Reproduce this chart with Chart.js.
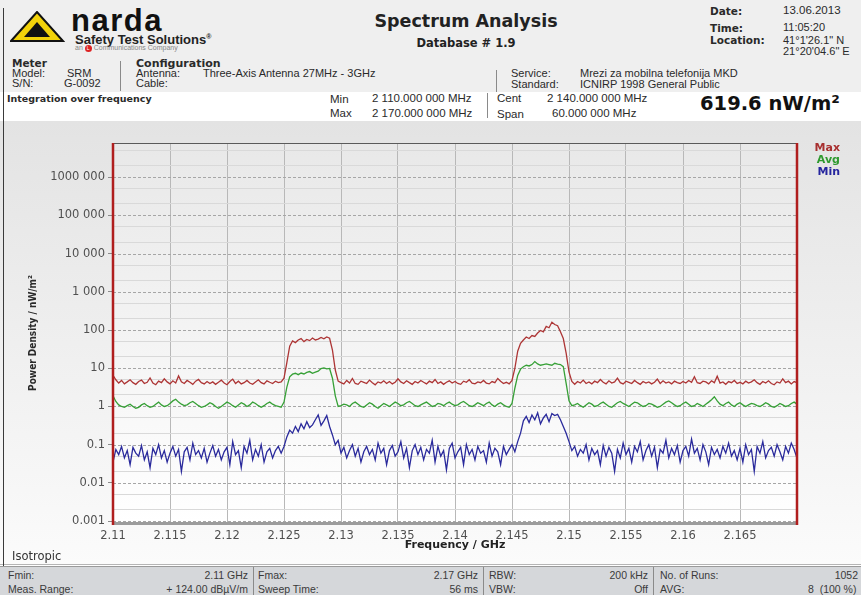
<!DOCTYPE html>
<html>
<head>
<meta charset="utf-8">
<script src="https://cdn.jsdelivr.net/npm/chart.js@4.4.0/dist/chart.umd.min.js"></script>
<style>
html, body { margin: 0; padding: 0; }
body { width: 861px; height: 595px; overflow: hidden; position: relative; background: #fff;
  font-family: "Liberation Sans", Arial, sans-serif; color: #2a2a2a; }
.t { position: absolute; white-space: nowrap; font-size: 11px; line-height: 11px; }
.v { font-family: "DejaVu Sans", Verdana, sans-serif; font-weight: bold; }
.sep { position: absolute; width: 1px; background: #8a8a8a; }
#head { position: absolute; left: 0; top: 0; width: 861px; height: 92px; background: #efefef; }
#panel { position: absolute; left: 0; top: 121px; width: 861px; height: 443px;
  background: linear-gradient(#e3e3e3, #fbfbfb); border-bottom: 1px solid #b5b5b5; }
#foot { position: absolute; left: 0; top: 566px; width: 861px; height: 29px; background: #d5d7da;
  border-top: 1px solid #9a9a9a; }
#foot .t { font-size: 10.5px; color: #3a3a3a; }
#chartBox { position: absolute; left: 0; top: 120px; width: 861px; height: 440px; }
#frameLine { position: absolute; left: 3px; top: 8px; width: 1px; height: 587px; background: #3a3a3a; }
</style>
</head>
<body>
<div id="head"></div>
<div id="panel"></div>
<div id="frameLine"></div>

<svg style="position:absolute;left:10px;top:11px" width="56" height="32" viewBox="0 0 56 32">
  <polygon points="1,30 27,1 53,30" fill="#f2d20a" stroke="#111" stroke-width="2"/>
  <polygon points="14,26 27,11 40,26" fill="#111"/>
</svg>
<div class="t" style="left:71px;top:5px;font-size:31px;line-height:31px;font-weight:bold;letter-spacing:1.5px;color:#111">narda</div>
<div class="t" style="left:75px;top:31px;font-size:13px;line-height:12px;font-weight:bold;color:#222">Safety Test Solutions<sup style="font-size:7px">®</sup></div>
<div class="t" style="left:75px;top:44px;font-size:7px;line-height:7px;color:#888">an <span style="display:inline-block;width:7px;height:7px;border-radius:4px;background:#d22;color:#fff;font-size:5px;line-height:7px;text-align:center">L</span> Communications Company</div>

<div class="t v" style="left:366px;width:200px;text-align:center;top:12px;font-size:17.5px;line-height:18px;color:#222">Spectrum Analysis</div>
<div class="t v" style="left:366px;width:200px;text-align:center;top:37px;font-size:11.5px;line-height:12px;color:#222">Database # 1.9</div>

<div class="t v" style="left:710px;top:6px;font-size:10.5px">Date:</div>
<div class="t v" style="left:710px;top:23px;font-size:10.5px">Time:</div>
<div class="t v" style="left:710px;top:35px;font-size:10.5px">Location:</div>
<div class="t" style="left:783px;top:5px;font-size:11.5px">13.06.2013</div>
<div class="t" style="left:783px;top:22px;font-size:11px">11:05:20</div>
<div class="t" style="left:783px;top:35px;font-size:11px">41°1'26.1" N</div>
<div class="t" style="left:783px;top:46px;font-size:11px">21°20'04.6" E</div>

<div class="t v" style="left:12px;top:58px;font-size:10.5px">Meter</div>
<div class="t" style="left:12px;top:68px">Model:</div>
<div class="t" style="left:67px;top:68px">SRM</div>
<div class="t" style="left:12px;top:78px">S/N:</div>
<div class="t" style="left:64px;top:78px">G-0092</div>
<div class="sep" style="left:120px;top:61px;height:30px"></div>
<div class="t v" style="left:136px;top:58px;font-size:11px">Configuration</div>
<div class="t" style="left:136px;top:68px">Antenna:</div>
<div class="t" style="left:203px;top:68px">Three-Axis Antenna 27MHz - 3GHz</div>
<div class="t" style="left:136px;top:78px">Cable:</div>
<div class="sep" style="left:496px;top:70px;height:22px"></div>
<div class="t" style="left:511px;top:68px">Service:</div>
<div class="t" style="left:580px;top:68px">Mrezi za mobilna telefonija MKD</div>
<div class="t" style="left:511px;top:79px">Standard:</div>
<div class="t" style="left:580px;top:79px">ICNIRP 1998 General Public</div>

<div class="t v" style="left:7px;top:93px;font-size:9.5px">Integration over frequency</div>
<div class="t" style="left:330px;top:94px;font-size:11.5px">Min</div>
<div class="t" style="left:372px;top:93px;font-size:11.5px">2 110.000 000 MHz</div>
<div class="t" style="left:330px;top:108px;font-size:11.5px">Max</div>
<div class="t" style="left:372px;top:108px;font-size:11.5px">2 170.000 000 MHz</div>
<div class="sep" style="left:487px;top:93px;height:25px"></div>
<div class="t" style="left:497px;top:93px;font-size:11.5px">Cent</div>
<div class="t" style="left:547px;top:93px;font-size:11.5px">2 140.000 000 MHz</div>
<div class="t" style="left:497px;top:109px;font-size:11.5px">Span</div>
<div class="t" style="left:552px;top:108px;font-size:11.5px">60.000 000 MHz</div>
<div class="t v" style="left:700px;top:94px;font-size:19.5px;line-height:20px;color:#111">619.6 nW/m²</div>

<div id="chartBox"><canvas id="spectrum" width="861" height="440" style="width:861px;height:440px"></canvas></div>

<div class="t v" style="right:21px;top:142px;font-size:11px;color:#a83030">Max</div>
<div class="t v" style="right:21px;top:154px;font-size:11px;color:#2f9a2f">Avg</div>
<div class="t v" style="right:21px;top:166px;font-size:11px;color:#25259e">Min</div>

<div class="t" style="left:12px;top:550px;font-family:'DejaVu Sans',sans-serif;font-size:11.5px;line-height:12px;color:#333">Isotropic</div>

<div id="foot">
  <div class="sep" style="left:253px;top:0;height:29px"></div>
  <div class="sep" style="left:483px;top:0;height:29px"></div>
  <div class="sep" style="left:653px;top:0;height:29px"></div>
  <div class="t" style="left:8px;top:3px">Fmin:</div>
  <div class="t" style="right:613px;top:3px">2.11 GHz</div>
  <div class="t" style="left:258px;top:3px">Fmax:</div>
  <div class="t" style="right:383px;top:3px">2.17 GHz</div>
  <div class="t" style="left:489px;top:3px">RBW:</div>
  <div class="t" style="right:213px;top:3px">200 kHz</div>
  <div class="t" style="left:660px;top:3px">No. of Runs:</div>
  <div class="t" style="right:3px;top:3px">1052</div>
  <div class="t" style="left:8px;top:17px">Meas. Range:</div>
  <div class="t" style="right:613px;top:17px">+ 124.00 dBµV/m</div>
  <div class="t" style="left:258px;top:17px">Sweep Time:</div>
  <div class="t" style="right:383px;top:17px">56 ms</div>
  <div class="t" style="left:489px;top:17px">VBW:</div>
  <div class="t" style="right:213px;top:17px">Off</div>
  <div class="t" style="left:660px;top:17px">AVG:</div>
  <div class="t" style="left:808px;top:17px">8&nbsp;&nbsp;(100 %)</div>
</div>

<script>
// sweep grid: 2.110 .. 2.170 GHz, 241 points
const fStart = 2.11;
const fStep = 0.00025;

const maxValues = [
  6.5, 5.0, 4.1, 4.8, 3.9, 4.4, 5.0, 4.2, 3.8, 4.5,
  4.9, 4.0, 4.3, 5.6, 4.1, 3.7, 4.6, 4.2, 5.3, 4.4,
  3.9, 4.7, 4.1, 6.3, 4.4, 4.0, 4.8, 4.3, 3.8, 4.6,
  5.1, 4.2, 3.9, 4.5, 4.0, 4.4, 3.8, 4.3, 4.9, 4.1,
  3.7, 4.5, 5.2, 4.0, 4.6, 3.9, 4.2, 4.8, 4.1, 3.8,
  4.4, 5.0, 4.2, 3.9, 4.7, 4.3, 4.0, 4.6, 4.2, 4.4,
  5.5, 14, 38, 52, 47, 55, 60, 50, 57, 53,
  62, 55, 58, 64, 59, 66, 61, 30, 9, 4.6,
  4.2, 3.9, 4.8, 4.1, 5.4, 4.0, 3.8, 4.6, 4.3, 4.0,
  4.9, 4.2, 3.7, 4.4, 4.1, 4.7, 4.0, 4.5, 3.9, 4.3,
  5.3, 4.4, 4.0, 4.7, 4.2, 3.8, 4.5, 4.1, 4.8, 4.3,
  3.9, 4.6, 4.2, 5.1, 4.0, 4.4, 3.8, 4.3, 4.7, 4.1,
  4.5, 4.0, 3.8, 4.6, 4.3, 5.0, 4.1, 3.9, 4.4, 4.2,
  4.8, 4.1, 3.9, 4.5, 4.2, 5.4, 4.6, 4.0, 4.3, 3.9,
  4.8, 10, 28, 45, 55, 66, 60, 72, 68, 84,
  98, 90, 125, 115, 160, 140, 130, 90, 60, 25,
  8, 4.5, 3.8, 4.5, 4.1, 4.9, 4.0, 4.4, 3.9, 4.6,
  4.2, 5.1, 4.3, 3.9, 4.7, 4.1, 4.4, 5.5, 4.2, 3.9,
  4.6, 4.3, 4.0, 4.8, 4.2, 3.8, 4.5, 4.1, 4.4, 3.9,
  4.3, 5.2, 4.0, 4.7, 4.1, 4.4, 3.9, 4.6, 4.2, 4.0,
  4.5, 4.1, 4.8, 4.3, 6.0, 4.2, 4.0, 4.6, 4.4, 3.9,
  4.7, 4.2, 6.2, 4.1, 4.4, 3.8, 4.5, 4.2, 4.8, 4.0,
  4.3, 3.9, 4.6, 4.1, 4.4, 5.0, 4.2, 3.8, 4.5, 4.1,
  4.7, 4.0, 3.7, 4.4, 4.1, 5.3, 4.2, 4.6, 3.9, 4.5, 4.2
];

const avgValues = [
  1.9, 1.35, 1.1, 1.0, 0.95, 1.05, 1.15, 1.0, 0.9, 0.95,
  1.1, 1.2, 1.05, 0.95, 1.0, 1.15, 1.3, 1.1, 1.0, 1.05,
  1.2, 1.4, 1.55, 1.3, 1.15, 1.05, 1.1, 1.25, 1.35, 1.2,
  1.05, 0.95, 1.0, 1.1, 1.25, 1.15, 1.0, 0.9, 1.0, 1.15,
  1.3, 1.2, 1.05, 0.95, 1.1, 1.25, 1.15, 1.0, 1.1, 1.3,
  1.2, 1.05, 0.95, 1.05, 1.2, 1.3, 1.15, 1.05, 1.0, 0.95,
  1.3, 3.2, 6.0, 7.0, 7.4, 6.8, 7.5, 7.1, 7.8, 8.2,
  7.4, 7.9, 8.4, 9.8, 10.2, 9.6, 9.9, 5.5, 1.9, 1.0,
  1.05, 1.15, 1.1, 1.0, 1.2, 1.3, 1.15, 1.0, 0.95, 1.1,
  1.25, 1.15, 1.0, 0.9, 1.05, 1.2, 1.1, 1.0, 1.15, 1.3,
  1.2, 1.05, 1.1, 1.25, 1.35, 1.2, 1.05, 1.0, 1.1, 1.2,
  1.3, 1.15, 1.0, 1.05, 1.2, 1.15, 1.05, 1.2, 1.3, 1.15,
  1.05, 1.1, 1.25, 1.35, 1.2, 1.05, 1.0, 1.1, 1.25, 1.15,
  1.05, 1.2, 1.3, 1.1, 1.0, 1.15, 1.25, 1.1, 1.0, 0.95,
  1.2, 3.0, 6.5, 9.5, 11.0, 12.0, 11.5, 12.5, 15.0, 13.0,
  12.0, 12.5, 13.0, 12.5, 12.0, 13.5, 12.8, 12.5, 11.0, 4.0,
  1.4, 1.05, 1.1, 1.2, 1.05, 0.95, 1.1, 1.25, 1.15, 1.0,
  1.05, 1.2, 1.3, 1.15, 1.0, 0.95, 1.1, 1.25, 1.35, 1.2,
  1.1, 1.0, 1.15, 1.3, 1.25, 1.1, 1.0, 1.05, 1.2, 1.15,
  1.05, 0.95, 1.0, 1.15, 1.3, 1.4, 1.25, 1.1, 1.0, 1.05,
  1.2, 1.3, 1.15, 1.0, 1.05, 1.2, 1.1, 1.0, 1.15, 1.3,
  1.5, 1.8, 1.4, 1.15, 1.05, 1.2, 1.3, 1.1, 1.0, 1.15,
  1.25, 1.1, 1.0, 1.1, 1.2, 1.15, 1.05, 1.0, 1.1, 1.25,
  1.15, 1.0, 0.95, 1.05, 1.2, 1.1, 1.0, 1.05, 1.2, 1.3, 1.15
];

const minValues = [
  0.035, 0.075, 0.055, 0.09, 0.045, 0.07, 0.03, 0.085, 0.06, 0.05,
  0.095, 0.04, 0.065, 0.025, 0.08, 0.055, 0.1, 0.045, 0.07, 0.035,
  0.06, 0.09, 0.05, 0.075, 0.02, 0.065, 0.085, 0.04, 0.11, 0.055,
  0.07, 0.045, 0.08, 0.035, 0.06, 0.095, 0.05, 0.075, 0.04, 0.065,
  0.085, 0.03, 0.12, 0.055, 0.07, 0.025, 0.09, 0.06, 0.13, 0.04,
  0.075, 0.05, 0.1, 0.035, 0.065, 0.08, 0.045, 0.07, 0.09, 0.06,
  0.09, 0.16, 0.24, 0.2, 0.3, 0.22, 0.35, 0.26, 0.4, 0.28,
  0.33, 0.45, 0.6, 0.32, 0.42, 0.58, 0.3, 0.18, 0.1, 0.13,
  0.06, 0.085, 0.045, 0.07, 0.1, 0.05, 0.08, 0.035, 0.065, 0.09,
  0.055, 0.075, 0.04, 0.11, 0.06, 0.08, 0.03, 0.07, 0.095, 0.05,
  0.065, 0.12, 0.045, 0.08, 0.025, 0.07, 0.1, 0.055, 0.085, 0.04,
  0.075, 0.06, 0.13, 0.035, 0.09, 0.05, 0.07, 0.022, 0.08, 0.11,
  0.045, 0.065, 0.085, 0.03, 0.1, 0.055, 0.075, 0.04, 0.09, 0.06,
  0.07, 0.035, 0.11, 0.05, 0.08, 0.065, 0.03, 0.09, 0.055, 0.075,
  0.1, 0.065, 0.12, 0.2, 0.42, 0.55, 0.38, 0.6, 0.45, 0.68,
  0.35, 0.5, 0.62, 0.4, 0.65, 0.58, 0.62, 0.45, 0.3, 0.2,
  0.12, 0.07, 0.09, 0.05, 0.075, 0.06, 0.1, 0.04, 0.08, 0.055,
  0.07, 0.03, 0.095, 0.05, 0.085, 0.06, 0.02, 0.075, 0.045, 0.11,
  0.055, 0.08, 0.035, 0.09, 0.065, 0.12, 0.04, 0.07, 0.1, 0.05,
  0.085, 0.025, 0.075, 0.06, 0.13, 0.045, 0.08, 0.055, 0.095, 0.035,
  0.07, 0.09, 0.05, 0.14, 0.06, 0.08, 0.04, 0.1, 0.065, 0.03,
  0.085, 0.055, 0.075, 0.045, 0.09, 0.06, 0.11, 0.05, 0.07, 0.04,
  0.08, 0.035, 0.1, 0.055, 0.075, 0.02, 0.09, 0.06, 0.12, 0.045,
  0.07, 0.085, 0.05, 0.1, 0.065, 0.04, 0.09, 0.06, 0.11, 0.075, 0.045
];

const xTickValues = [2.11, 2.115, 2.12, 2.125, 2.13, 2.135, 2.14, 2.145, 2.15, 2.155, 2.16, 2.165, 2.17];
const xTickLabels = ['2.11', '2.115', '2.12', '2.125', '2.13', '2.135', '2.14', '2.145', '2.15', '2.155', '2.16', '2.165', ''];

const yTickValues = [0.001, 0.01, 0.1, 1, 10, 100, 1000, 10000, 100000, 1000000];
const yTickLabels = ['0.001', '0.01', '0.1', '1', '10', '100', '1 000', '10 000', '100 000', '1000 000'];

// light solid lines at 2x and 5x inside each decade
const yGridValues = [];
yTickValues.forEach(v => { yGridValues.push(v, v * 2, v * 5); });

const freqs = maxValues.map((_, i) => Math.round((fStart + i * fStep) * 1e5) / 1e5);
const toPoints = vals => vals.map((v, i) => ({ x: freqs[i], y: v }));

const plotFrame = {
  id: 'plotFrame',
  beforeDraw(chart) {
    const { ctx, chartArea: a } = chart;
    const g = ctx.createLinearGradient(0, a.top, 0, a.bottom);
    g.addColorStop(0, '#e8e8e8');
    g.addColorStop(1, '#ffffff');
    ctx.save();
    ctx.fillStyle = g;
    ctx.fillRect(a.left, a.top, a.right - a.left, a.bottom - a.top);
    ctx.restore();
  },
  beforeDatasetsDraw(chart) {
    const { ctx, chartArea: a, scales } = chart;
    ctx.save();
    ctx.strokeStyle = '#a6a6a6';
    ctx.lineWidth = 1;
    ctx.setLineDash([3, 2]);
    yTickValues.forEach(v => {
      const py = Math.round(scales.y.getPixelForValue(v)) + 0.5;
      ctx.beginPath();
      ctx.moveTo(a.left, py);
      ctx.lineTo(a.right, py);
      ctx.stroke();
    });
    ctx.restore();
  },
  afterDatasetsDraw(chart) {
    const { ctx, chartArea: a } = chart;
    ctx.save();
    ctx.strokeStyle = '#5a5a5a';
    ctx.lineWidth = 1;
    ctx.beginPath();
    ctx.moveTo(a.left, a.top + 0.5);
    ctx.lineTo(a.right, a.top + 0.5);
    ctx.stroke();
    ctx.strokeStyle = '#9c9c9c';
    ctx.lineWidth = 3;
    ctx.beginPath();
    ctx.moveTo(a.left, a.bottom + 0.5);
    ctx.lineTo(a.right, a.bottom + 0.5);
    ctx.stroke();
    ctx.strokeStyle = '#b01e1e';
    ctx.lineWidth = 2.5;
    ctx.beginPath();
    ctx.moveTo(a.left, a.top);
    ctx.lineTo(a.left, a.bottom + 2);
    ctx.moveTo(a.right, a.top);
    ctx.lineTo(a.right, a.bottom + 2);
    ctx.stroke();
    ctx.restore();
  }
};

Chart.defaults.font.family = "'DejaVu Sans', Verdana, sans-serif";

new Chart(document.getElementById('spectrum'), {
  type: 'line',
  data: {
    datasets: [
      { label: 'Max', data: toPoints(maxValues), borderColor: '#ad3535', borderWidth: 1.3, pointRadius: 0, tension: 0 },
      { label: 'Avg', data: toPoints(avgValues), borderColor: '#36a036', borderWidth: 1.3, pointRadius: 0, tension: 0 },
      { label: 'Min', data: toPoints(minValues), borderColor: '#2a2a9c', borderWidth: 1.3, pointRadius: 0, tension: 0 }
    ]
  },
  options: {
    responsive: false,
    animation: false,
    devicePixelRatio: 1,
    layout: { padding: { left: 0, top: 23, right: 64, bottom: 0 } },
    plugins: {
      legend: { display: false },
      tooltip: { enabled: false }
    },
    scales: {
      x: {
        type: 'linear',
        min: 2.11,
        max: 2.17,
        afterBuildTicks: s => { s.ticks = xTickValues.map(v => ({ value: v })); },
        afterFit: s => { s.height = 37; },
        ticks: {
          autoSkip: false,
          maxRotation: 0,
          padding: 6,
          color: '#505050',
          font: { size: 11.5 },
          callback: (v, i) => xTickLabels[i]
        },
        grid: { color: '#b8b8b8', lineWidth: 1, drawTicks: false },
        border: { display: false },
        title: {
          display: true,
          text: 'Frequency / GHz',
          color: '#222',
          font: { size: 11, weight: 'bold' },
          padding: { top: 0, bottom: 8 }
        }
      },
      y: {
        type: 'logarithmic',
        min: 0.00089,
        max: 7.9e6,
        afterBuildTicks: s => {
          s.ticks = yGridValues.map(v => ({ value: v, major: yTickValues.includes(v) }));
        },
        afterFit: s => { s.width = 113; },
        ticks: {
          autoSkip: false,
          padding: 3,
          color: '#505050',
          font: { size: 11.5 },
          callback: v => {
            const k = yTickValues.indexOf(v);
            return k < 0 ? '' : yTickLabels[k];
          }
        },
        grid: {
          color: c => (c.tick && c.tick.major ? 'rgba(0,0,0,0)' : '#d9d9d9'),
          tickColor: c => (c.tick && c.tick.major ? '#8a8a8a' : 'rgba(0,0,0,0)'),
          tickLength: 5,
          drawTicks: true
        },
        border: { display: false },
        title: {
          display: true,
          text: 'Power Density / nW/m²',
          color: '#2a2a2a',
          font: { family: "'DejaVu Sans Condensed', 'Liberation Sans Narrow', 'DejaVu Sans', sans-serif", size: 10, weight: 'bold' },
          padding: { top: 27, bottom: 0 }
        }
      }
    }
  },
  plugins: [plotFrame]
});
</script>
</body>
</html>
